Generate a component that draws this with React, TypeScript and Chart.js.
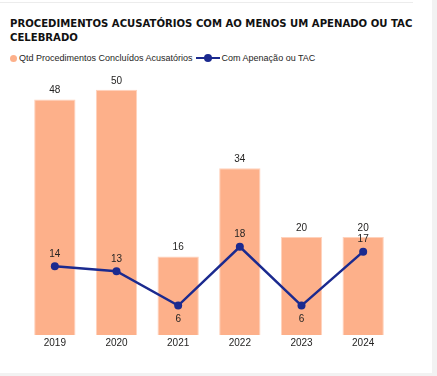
import React, { useEffect, useRef } from "react";
import { Chart, registerables } from "chart.js";

Chart.register(...registerables);

const years = ["2019", "2020", "2021", "2022", "2023", "2024"];
const concluidos = [48, 50, 16, 34, 20, 20];
const apenados = [14, 13, 6, 18, 6, 17];

const BAR_COLOR = "#FDB08A";
const LINE_COLOR = "#1B2A8F";

const labelsPlugin = {
  id: "valueLabels",
  afterDatasetsDraw(chart: any) {
    const ctx = chart.ctx;
    ctx.save();
    ctx.font = "10px 'Liberation Sans', Arial, sans-serif";
    ctx.fillStyle = "#252423";
    ctx.textAlign = "center";
    ctx.textBaseline = "middle";
    const barMeta = chart.getDatasetMeta(0);
    barMeta.data.forEach((el: any, i: number) => {
      ctx.fillText(String(concluidos[i]), el.x, el.y - 9);
    });
    const lineMeta = chart.getDatasetMeta(1);
    lineMeta.data.forEach((el: any, i: number) => {
      const v = apenados[i];
      const prev = i > 0 ? apenados[i - 1] : Infinity;
      const next = i < apenados.length - 1 ? apenados[i + 1] : Infinity;
      const below = v < prev && v < next;
      ctx.fillText(String(v), el.x, below ? el.y + 14 : el.y - 12.5);
    });
    ctx.restore();
  },
};

export default function App() {
  const ref = useRef<HTMLCanvasElement>(null);
  useEffect(() => {
    document.body.style.margin = "0";
    document.body.style.background = "#ffffff";
    const chart = new Chart(ref.current!, {
      type: "bar",
      data: {
        labels: years,
        datasets: [
          {
            type: "bar",
            label: "Qtd Procedimentos Concluídos Acusatórios",
            data: concluidos,
            backgroundColor: BAR_COLOR,
            borderColor: "#FFD2BC",
            borderWidth: 1,
            categoryPercentage: 1,
            barPercentage: 0.67,
            yAxisID: "y",
            order: 2,
          },
          {
            type: "line",
            label: "Com Apenação ou TAC",
            data: apenados,
            borderColor: LINE_COLOR,
            backgroundColor: LINE_COLOR,
            borderWidth: 2.5,
            pointRadius: 4,
            pointBackgroundColor: LINE_COLOR,
            pointBorderWidth: 0,
            tension: 0,
            yAxisID: "y",
            order: 1,
          } as any,
        ],
      },
      options: {
        animation: false,
        responsive: false,
        maintainAspectRatio: false,
        layout: { padding: { left: 24, right: 43, top: 15, bottom: 0 } },
        plugins: {
          legend: { display: false },
          tooltip: { enabled: false },
          title: { display: false },
        },
        scales: {
          x: {
            grid: { display: false, drawTicks: false },
            border: { display: false },
            ticks: {
              color: "#252423",
              font: { family: "'Liberation Sans', Arial, sans-serif", size: 10 },
              padding: 2,
            },
          },
          y: {
            display: false,
            min: 0,
            max: 52,
          },
        },
      },
      plugins: [labelsPlugin],
    });
    return () => chart.destroy();
  }, []);

  return (
    <div style={{ position: "relative", width: 437, height: 376, background: "#fff", overflow: "hidden" }}>
      <div style={{ position: "absolute", left: 0, top: 2, width: 413, height: 1, background: "#ececec" }} />
      <div style={{ position: "absolute", left: 432, top: 0, width: 5, height: 376, background: "#f2f2f2" }} />
      <div style={{ position: "absolute", left: 0, top: 373, width: 437, height: 3, background: "#f2f2f2" }} />
      <div
        style={{
          position: "absolute",
          left: 10,
          top: 17,
          fontFamily: "'DejaVu Sans', sans-serif",
          fontWeight: 900,
          fontSize: 10.1,
          lineHeight: "14px",
          color: "#111",
          whiteSpace: "nowrap",
        }}
      >
        PROCEDIMENTOS ACUSATÓRIOS COM AO MENOS UM APENADO OU TAC
        <br />
        CELEBRADO
      </div>
      <div
        style={{
          position: "absolute",
          left: 10,
          top: 51,
          height: 14,
          display: "flex",
          alignItems: "center",
          fontFamily: "'Liberation Sans', Arial, sans-serif",
          fontSize: 9,
          color: "#252423",
          whiteSpace: "nowrap",
        }}
      >
        <span style={{ display: "inline-block", width: 7, height: 7, borderRadius: "50%", background: BAR_COLOR, marginRight: 2 }} />
        <span>Qtd Procedimentos Concluídos Acusatórios</span>
        <span style={{ position: "relative", display: "inline-block", width: 24, height: 8, marginLeft: 3, marginRight: 2 }}>
          <span style={{ position: "absolute", left: 0, top: 3, width: 24, height: 2, background: LINE_COLOR }} />
          <span style={{ position: "absolute", left: 8, top: 0, width: 8, height: 8, borderRadius: "50%", background: LINE_COLOR }} />
        </span>
        <span>Com Apenação ou TAC</span>
      </div>
      <canvas ref={ref} width={437} height={286} style={{ position: "absolute", left: 0, top: 65, width: 437, height: 286 }} />
    </div>
  );
}
